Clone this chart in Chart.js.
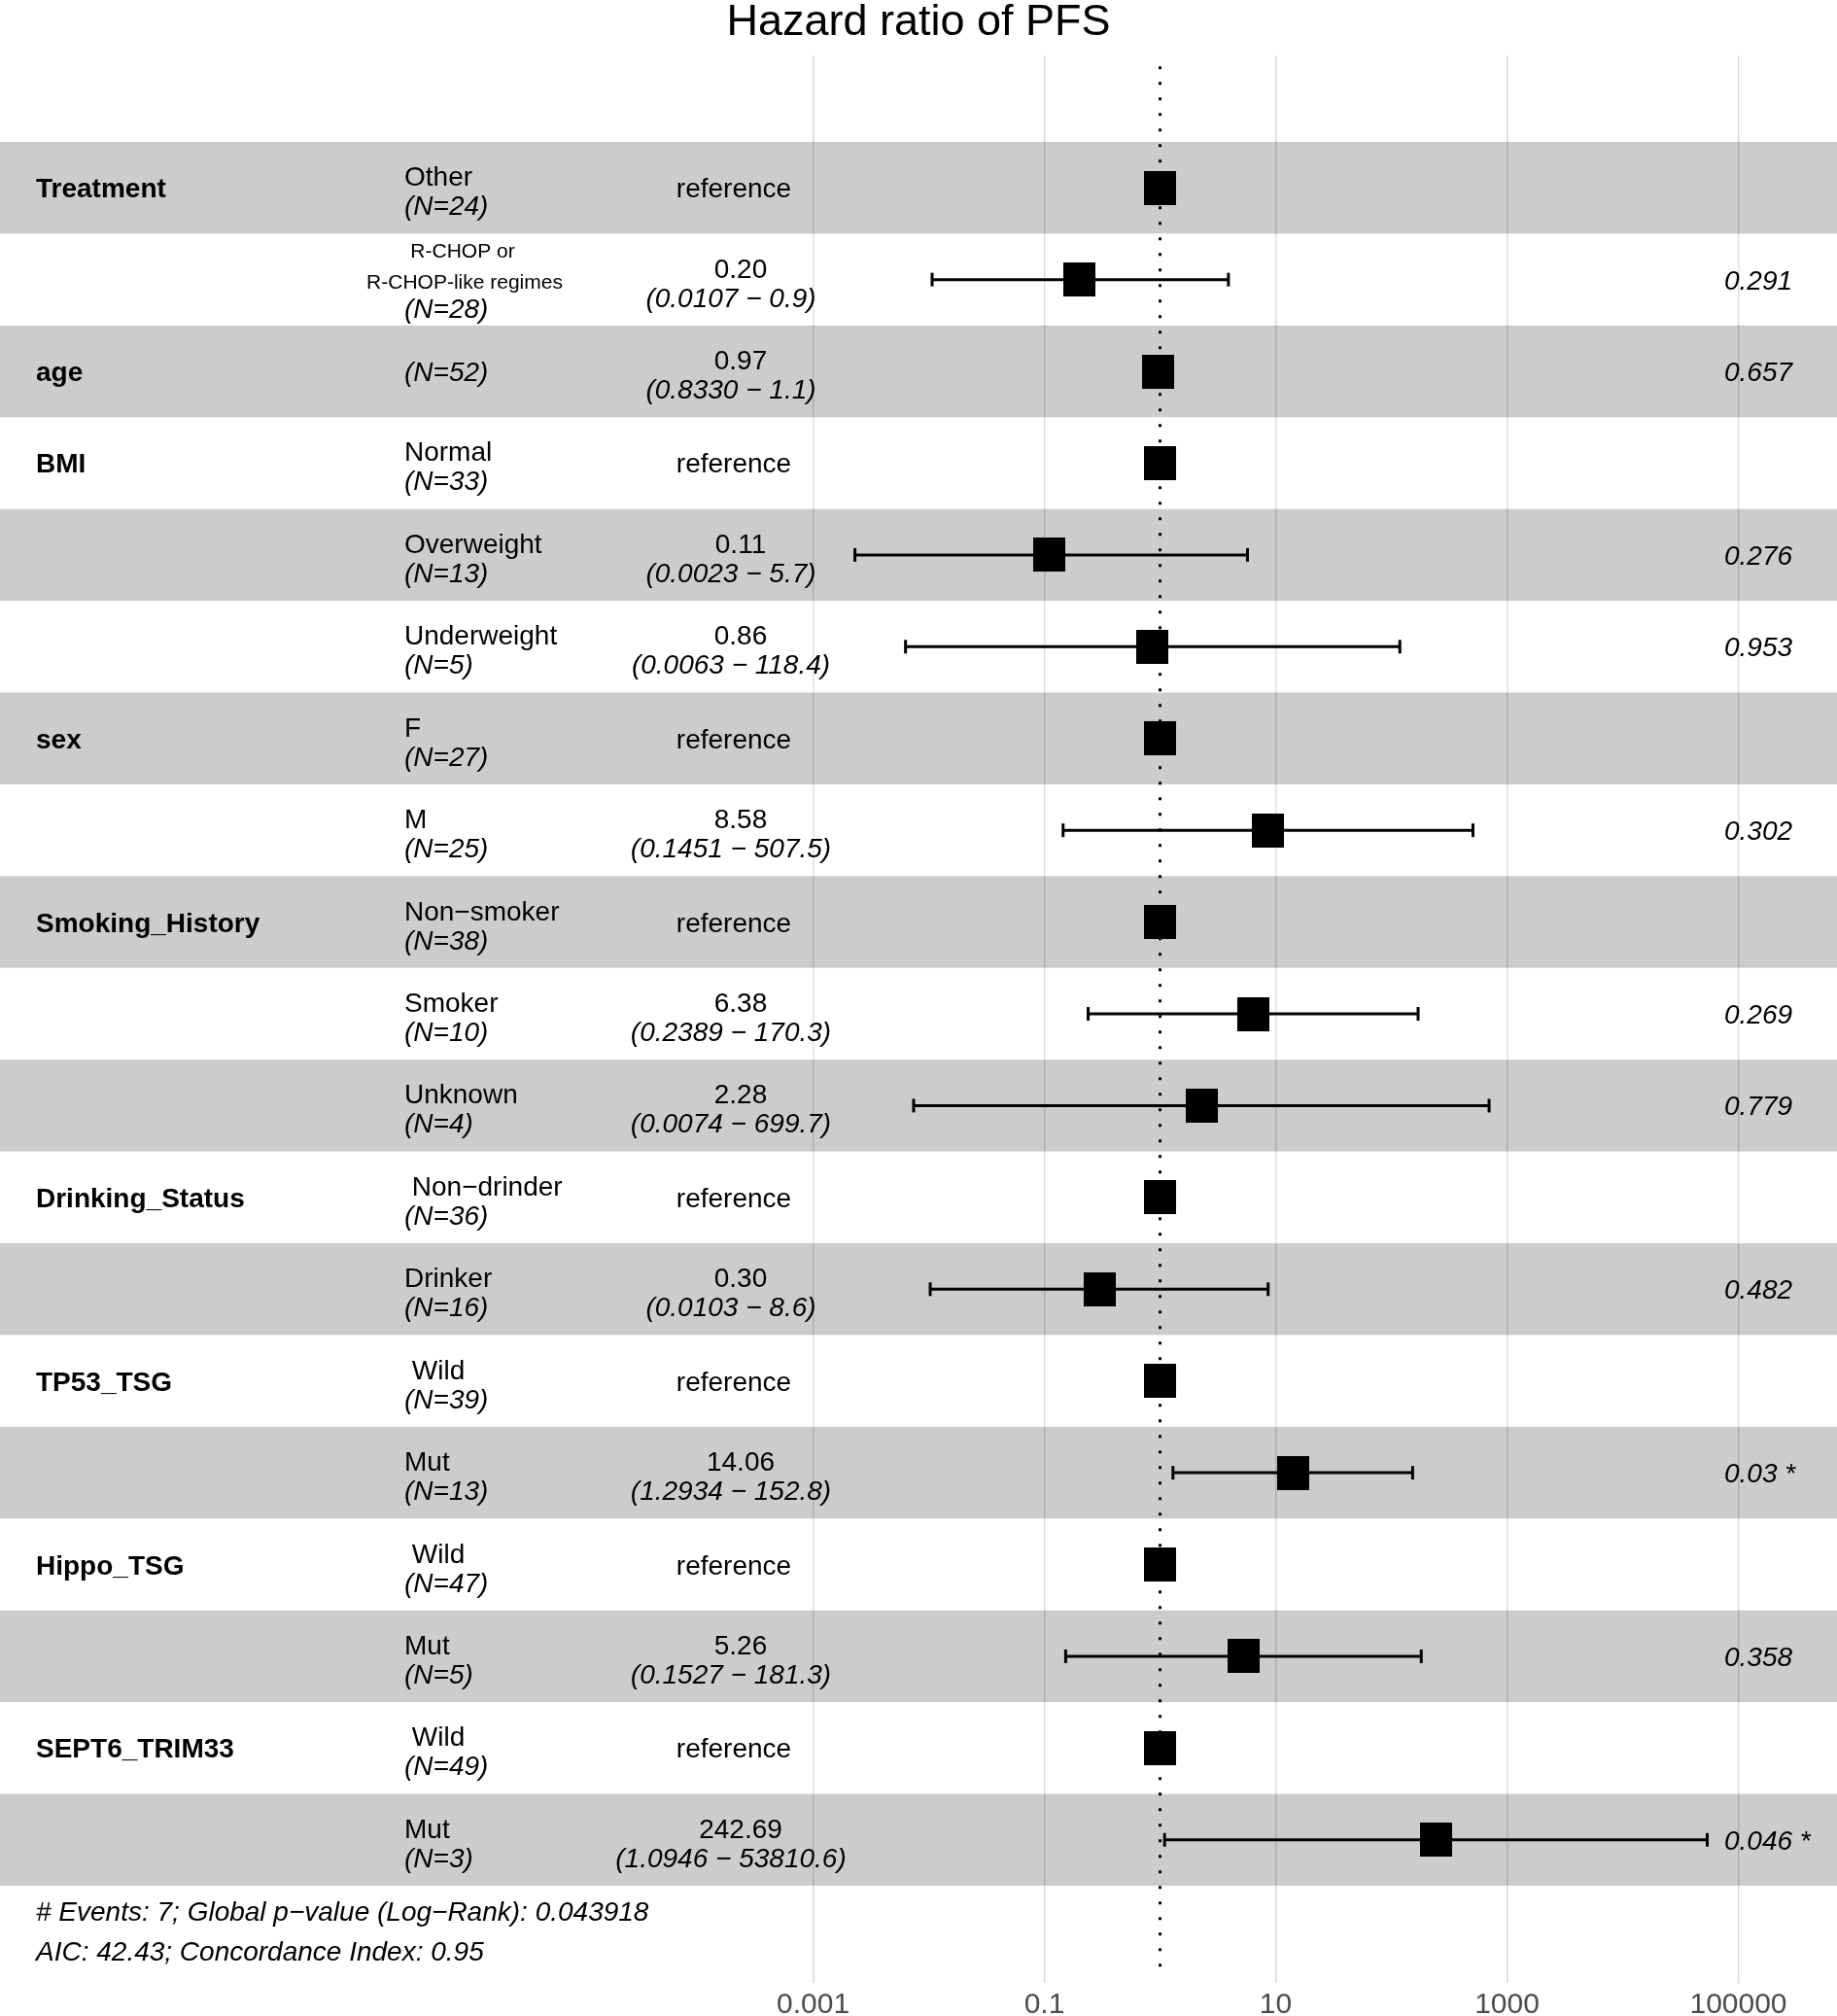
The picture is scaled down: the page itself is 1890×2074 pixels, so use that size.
<!DOCTYPE html>
<html>
<head>
<meta charset="utf-8">
<title>Hazard ratio of PFS</title>
<script src="https://cdn.jsdelivr.net/npm/chart.js@4.4.1/dist/chart.umd.min.js"></script>
<style>
  html, body { margin: 0; padding: 0; background: #fff; }
  #wrap { width: 1890px; height: 2074px; }
</style>
</head>
<body>
<div id="wrap"><canvas id="forest" width="1890" height="2074"></canvas></div>
<script>
// ---- data (one entry per row, top to bottom) ----
const varNames = ['Treatment', '', 'age', 'BMI', '', '', 'sex', '', 'Smoking_History', '', '',
  'Drinking_Status', '', 'TP53_TSG', '', 'Hippo_TSG', '', 'SEPT6_TRIM33', ''];
const levelNames = ['Other', 'R-CHOP or\nR-CHOP-like regimes', '', 'Normal', 'Overweight', 'Underweight',
  'F', 'M', 'Non\u2212smoker', 'Smoker', 'Unknown', ' Non\u2212drinder', 'Drinker',
  ' Wild', 'Mut', ' Wild', 'Mut', ' Wild', 'Mut'];
const nLabels = ['(N=24)', '(N=28)', '(N=52)', '(N=33)', '(N=13)', '(N=5)', '(N=27)', '(N=25)',
  '(N=38)', '(N=10)', '(N=4)', '(N=36)', '(N=16)', '(N=39)', '(N=13)', '(N=47)', '(N=5)', '(N=49)', '(N=3)'];

const hrValues = [1, 0.20, 0.97, 1, 0.11, 0.86, 1, 8.58, 1, 6.38, 2.28, 1, 0.30, 1, 14.06, 1, 5.26, 1, 242.69];
const ciLower  = [null, 0.0107, 0.833, null, 0.0023, 0.0063, null, 0.1451, null, 0.2389, 0.0074,
  null, 0.0103, null, 1.2934, null, 0.1527, null, 1.0946];
const ciUpper  = [null, 3.9, 1.1, null, 5.7, 118.4, null, 507.5, null, 170.3, 699.7,
  null, 8.6, null, 152.8, null, 181.3, null, 53810.6];

const hrText = ['reference', '0.20', '0.97', 'reference', '0.11', '0.86', 'reference', '8.58', 'reference',
  '6.38', '2.28', 'reference', '0.30', 'reference', '14.06', 'reference', '5.26', 'reference', '242.69'];
const ciText = ['', '(0.0107 \u2212 0.9)', '(0.8330 \u2212 1.1)', '', '(0.0023 \u2212 5.7)', '(0.0063 \u2212 118.4)',
  '', '(0.1451 \u2212 507.5)', '', '(0.2389 \u2212 170.3)', '(0.0074 \u2212 699.7)', '', '(0.0103 \u2212 8.6)',
  '', '(1.2934 \u2212 152.8)', '', '(0.1527 \u2212 181.3)', '', '(1.0946 \u2212 53810.6)'];
const pText = ['', '0.291', '0.657', '', '0.276', '0.953', '', '0.302', '', '0.269', '0.779', '', '0.482',
  '', '0.03 *', '', '0.358', '', '0.046 *'];

const xTicks = [0.001, 0.1, 10, 1000, 100000];
const xTickLabels = ['0.001', '0.1', '10', '1000', '100000'];
const refHR = 1;

const titleText = 'Hazard ratio of PFS';
const footnotes = ['# Events: 7; Global p\u2212value (Log\u2212Rank): 0.043918', 'AIC: 42.43; Concordance Index: 0.95'];

// ---- layout ----
const W = 1890, H = 2074;
const FONT = '"Liberation Sans", Arial, Helvetica, sans-serif';
const X_MIN = Math.pow(10, -10.03), X_MAX = Math.pow(10, 5.853);
const Y_MIN = -0.9426, Y_MAX = 20.059;
const nRows = hrValues.length;

// black box marker, slightly taller than wide like the original
function makeBox(w, h) {
  const c = document.createElement('canvas');
  c.width = w; c.height = h;
  const g = c.getContext('2d');
  g.fillStyle = '#000';
  g.fillRect(0, 0, w, h);
  return c;
}
const boxImg = makeBox(33, 35);

const rowY = i => i + 0.5;

const datasets = [];
datasets.push({
  label: 'HR',
  data: hrValues.map((v, i) => ({ x: v, y: rowY(i) })),
  pointStyle: boxImg,
  pointRadius: 16,
  showLine: false,
  order: 0,
});
hrValues.forEach((v, i) => {
  if (ciLower[i] == null) return;
  datasets.push({
    label: 'CI ' + i,
    data: [{ x: ciLower[i], y: rowY(i) }, { x: ciUpper[i], y: rowY(i) }],
    showLine: true,
    borderColor: '#000',
    borderWidth: 3,
    pointStyle: 'line',
    pointRotation: 90,
    pointRadius: 7,
    pointBorderWidth: 3,
    pointBorderColor: '#000',
    order: 1,
  });
});
datasets.push({
  label: 'ref',
  data: [{ x: refHR, y: Y_MIN + 0.12 }, { x: refHR, y: Y_MAX - 0.12 }],
  showLine: true,
  borderColor: '#000',
  borderWidth: 3,
  borderDash: [3, 13],
  pointRadius: 0,
  order: 2,
});

// grey/white row bands, drawn over the grid like ggforest's translucent rects
const bandsPlugin = {
  id: 'bands',
  beforeDatasetsDraw(chart) {
    const { ctx, scales: { y } } = chart;
    ctx.save();
    for (let i = 0; i < nRows; i++) {
      const top = y.getPixelForValue(i);
      const bot = y.getPixelForValue(i + 1);
      ctx.fillStyle = i % 2 === 0 ? 'rgba(0,0,0,0.2)' : 'rgba(255,255,255,0.2)';
      ctx.fillRect(0, top, chart.width, bot - top);
    }
    ctx.restore();
  }
};

const textPlugin = {
  id: 'tableText',
  afterDatasetsDraw(chart) {
    const { ctx, scales: { y } } = chart;
    ctx.save();
    ctx.fillStyle = '#000';
    ctx.textBaseline = 'alphabetic';

    ctx.font = '45px ' + FONT;
    ctx.textAlign = 'center';
    ctx.fillText(titleText, W / 2, 36);

    for (let i = 0; i < nRows; i++) {
      const c = y.getPixelForValue(rowY(i));

      if (varNames[i]) {
        ctx.font = 'bold 28px ' + FONT;
        ctx.textAlign = 'left';
        ctx.fillText(varNames[i], 37, c + 10);
      }

      const lvl = levelNames[i];
      if (lvl.indexOf('\n') >= 0) {
        const parts = lvl.split('\n');
        ctx.font = '21px ' + FONT;
        ctx.textAlign = 'center';
        ctx.fillText(parts[0], 476, c - 22.5);
        ctx.fillText(parts[1], 478, c + 9);
        ctx.font = 'italic 28px ' + FONT;
        ctx.textAlign = 'left';
        ctx.fillText(nLabels[i], 416, c + 39);
      } else if (lvl) {
        ctx.font = '28px ' + FONT;
        ctx.textAlign = 'left';
        ctx.fillText(lvl, 416, c - 2);
        ctx.font = 'italic 28px ' + FONT;
        ctx.fillText(nLabels[i], 416, c + 28);
      } else {
        ctx.font = 'italic 28px ' + FONT;
        ctx.textAlign = 'left';
        ctx.fillText(nLabels[i], 416, c + 10);
      }

      ctx.textAlign = 'center';
      if (!ciText[i]) {
        ctx.font = '28px ' + FONT;
        ctx.fillText(hrText[i], 755, c + 10);
      } else {
        ctx.font = '28px ' + FONT;
        ctx.fillText(hrText[i], 762, c - 2);
        ctx.font = 'italic 28px ' + FONT;
        ctx.fillText(ciText[i], 752, c + 28);
      }

      if (pText[i]) {
        ctx.font = 'italic 28px ' + FONT;
        ctx.textAlign = 'left';
        ctx.fillText(pText[i], 1774, c + 10);
      }
    }

    ctx.font = 'italic 28px ' + FONT;
    ctx.textAlign = 'left';
    ctx.fillText(footnotes[0], 37, 1976);
    ctx.fillText(footnotes[1], 37, 2017);
    ctx.restore();
  }
};

new Chart(document.getElementById('forest'), {
  type: 'scatter',
  data: { datasets },
  options: {
    responsive: false,
    animation: false,
    devicePixelRatio: 1,
    layout: { autoPadding: false, padding: { top: 57, left: 0, right: 0, bottom: 0 } },
    plugins: { legend: { display: false }, tooltip: { enabled: false }, title: { display: false } },
    scales: {
      x: {
        type: 'logarithmic',
        position: 'bottom',
        min: X_MIN,
        max: X_MAX,
        afterBuildTicks: scale => { scale.ticks = xTicks.map(v => ({ value: v })); },
        afterFit: scale => { scale.height = 34; },
        grid: { color: '#d9d9d9', lineWidth: 1.5, drawTicks: false },
        border: { display: false },
        ticks: {
          color: '#4d4d4d',
          padding: 5,
          maxRotation: 0,
          autoSkip: false,
          font: { size: 30, family: FONT, lineHeight: 1.2 },
          callback: (v, idx) => xTickLabels[idx],
        },
      },
      y: {
        type: 'linear',
        display: false,
        reverse: true,
        min: Y_MIN,
        max: Y_MAX,
      },
    },
  },
  plugins: [bandsPlugin, textPlugin],
});
</script>
</body>
</html>
